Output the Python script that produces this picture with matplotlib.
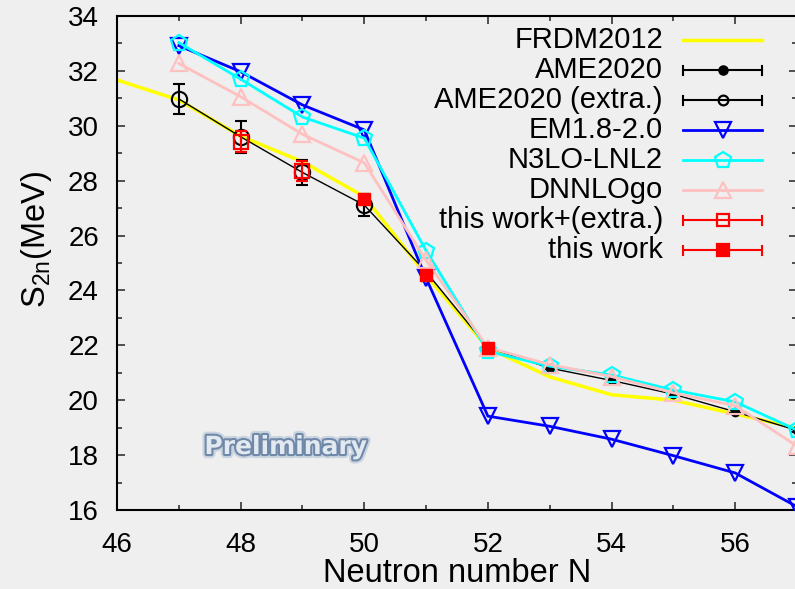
import numpy as np
import matplotlib
matplotlib.use("Agg")
import matplotlib.pyplot as plt
from matplotlib.lines import Line2D
import matplotlib.patheffects as pe
from matplotlib.ticker import MultipleLocator

# ---------------- data ----------------
frdm_N = [46, 47, 48, 49, 50, 51, 52, 53, 54, 55, 56, 57]
frdm_S = [31.67, 30.94, 29.62, 28.69, 27.42, 24.55, 21.90, 20.85, 20.20, 20.00, 19.50, 18.98]

ame_N = [51, 52, 53, 54, 55, 56, 57]
ame_S = [24.68, 21.92, 21.17, 20.72, 20.22, 19.58, 18.90]
ame_err = [0.05, 0.05, 0.05, 0.05, 0.05, 0.05, 0.05]

amex_N = [47, 48, 49, 50]
amex_S = [30.98, 29.60, 28.30, 27.11]
amex_err = [0.55, 0.58, 0.47, 0.40]

em_N = [47, 48, 49, 50, 51, 52, 53, 54, 55, 56, 57]
em_S = [32.92, 31.97, 30.76, 29.85, 24.45, 19.42, 19.05, 18.58, 17.98, 17.35, 16.12]

n3lo_N = [47, 48, 49, 50, 51, 52, 53, 54, 55, 56, 57]
n3lo_S = [33.03, 31.70, 30.32, 29.55, 25.45, 21.78, 21.24, 20.92, 20.37, 19.94, 18.91]

dnnlo_N = [47, 48, 49, 50, 51, 52, 53, 54, 55, 56, 57]
dnnlo_S = [32.27, 31.06, 29.69, 28.65, 25.10, 21.92, 21.30, 20.86, 20.27, 19.80, 18.33]

twx_N = [48, 49]
twx_S = [29.42, 28.36]
twx_err = [0.38, 0.37]

tw_N = [50, 51, 52]
tw_S = [27.33, 24.55, 21.90]
tw_err = [0.18, 0.10, 0.08]

legend_labels = ["FRDM2012", "AME2020", "AME2020 (extra.)", "EM1.8-2.0",
                 "N3LO-LNL2", "DNNLOgo", "this work+(extra.)", "this work"]

x_ticks = [46, 48, 50, 52, 54, 56]
y_ticks = [16, 18, 20, 22, 24, 26, 28, 30, 32, 34]

# ---------------- style ----------------
plt.rcParams['font.family'] = ['Liberation Sans', 'DejaVu Sans']
plt.rcParams['mathtext.fontset'] = 'custom'
plt.rcParams['mathtext.rm'] = 'Liberation Sans'
plt.rcParams['mathtext.it'] = 'Liberation Sans:italic'
plt.rcParams['mathtext.default'] = 'regular'

BG = '#efefef'
W, H = 795, 589
fig = plt.figure(figsize=(W / 100, H / 100), dpi=100, facecolor=BG)
ax = fig.add_axes([117 / W, (H - 510) / H, 680 / W, 494 / H])
ax.set_facecolor(BG)

ax.set_xlim(46, 57)
ax.set_ylim(16, 34)

# FRDM
ax.plot(frdm_N, frdm_S, color='#ffff00', lw=2.5, zorder=2)
# AME black line through extra + measured
ax.plot(amex_N + ame_N, amex_S + ame_S, color='black', lw=1.0, zorder=3)
ax.errorbar(ame_N, ame_S, yerr=ame_err, fmt='o', color='black', ms=6,
            capsize=4, elinewidth=1.5, capthick=1.5, zorder=4)
ax.errorbar(amex_N, amex_S, yerr=amex_err, fmt='o', color='black', mfc='none',
            ms=11, mew=1.5, capsize=4, elinewidth=1.5, capthick=1.5, zorder=4)
# EM
ax.plot(em_N, em_S, color='#0000ff', lw=2, marker='v', ms=11, mfc='none',
        mew=1.6, zorder=5)
# N3LO
ax.plot(n3lo_N, n3lo_S, color='#00ffff', lw=2, marker='p', ms=12, mfc='none',
        mew=1.6, zorder=6)
# DNNLO
ax.plot(dnnlo_N, dnnlo_S, color='#ffc0c0', lw=2, marker='^', ms=11, mfc='none',
        mew=1.6, zorder=7)
# this work extra
ax.errorbar(twx_N, twx_S, yerr=twx_err, fmt='s', color='#ff0000', mfc='none',
            ms=10, mew=1.6, capsize=4, elinewidth=1.5, capthick=1.5, zorder=8)
# this work
ax.errorbar(tw_N, tw_S, yerr=tw_err, fmt='s', color='#ff0000',
            ms=9, capsize=4, elinewidth=1.5, capthick=1.5, zorder=9)

# axes / ticks
ax.set_xticks(x_ticks)
ax.set_yticks(y_ticks)
ax.xaxis.set_minor_locator(MultipleLocator(1))
ax.yaxis.set_minor_locator(MultipleLocator(1))
ax.tick_params(which='both', direction='in', top=True, right=True,
               width=1.2, color='#333333')
ax.tick_params(which='major', length=6)
ax.tick_params(which='minor', length=3.5)
ax.tick_params(axis='x', which='major', labelsize=20, pad=16)
ax.tick_params(axis='y', which='major', labelsize=20, pad=13)
for s in ax.spines.values():
    s.set_linewidth(1.5)

ax.set_xlabel('Neutron number N', fontsize=23.5, labelpad=0)
ax.set_ylabel(r'S$_{2n}$(MeV)', fontsize=23.5)
ax.yaxis.set_label_coords(-0.092, 0.547)

# Preliminary watermark
ax.text(286 / W, 1 - 447 / H, 'Preliminary', transform=fig.transFigure,
        ha='center', va='center', fontsize=18, fontweight='bold',
        family='DejaVu Sans', color='#e3e9f0', zorder=1,
        path_effects=[pe.Stroke(linewidth=6, foreground='#c9d4e0'),
                      pe.Stroke(linewidth=3, foreground='#7089a8'),
                      pe.Normal()])

# ---------------- manual gnuplot-style legend ----------------
text_right = 663
x0, x1, xm = 683, 762, 722.5
row_y = [40, 70, 100, 130, 160, 190, 220, 250]
styles = [
    dict(color='#ffff00', lw=2.5, marker=None, err=False),
    dict(color='black', lw=1.5, marker='o', ms=6, mfc='black', err=True),
    dict(color='black', lw=1.5, marker='o', ms=7, mfc='none', err=True),
    dict(color='#0000ff', lw=2, marker='v', ms=11, mfc='none', err=False),
    dict(color='#00ffff', lw=2, marker='p', ms=12, mfc='none', err=False),
    dict(color='#ffc0c0', lw=2, marker='^', ms=11, mfc='none', err=False),
    dict(color='#ff0000', lw=1.5, marker='s', ms=8, mfc='none', err=True),
    dict(color='#ff0000', lw=1.5, marker='s', ms=8, mfc='#ff0000', err=True),
]
tf = fig.transFigure
for lab, y, st in zip(legend_labels, row_y, styles):
    yf = 1 - y / H
    fig.text(text_right / W, yf, lab, ha='right', va='center', fontsize=21)
    fig.add_artist(Line2D([x0 / W, x1 / W], [yf, yf], transform=tf,
                          color=st['color'], lw=st['lw']))
    if st['err']:
        for xe in (x0, x1):
            fig.add_artist(Line2D([xe / W, xe / W], [yf - 4.5 / H, yf + 4.5 / H],
                                  transform=tf, color=st['color'], lw=st['lw']))
    if st['marker']:
        fig.add_artist(Line2D([xm / W], [yf], transform=tf, color=st['color'],
                              marker=st['marker'], ms=st['ms'], mfc=st['mfc'],
                              mew=1.6, linestyle='none'))

fig.savefig('out.png', dpi=100, facecolor=BG)
